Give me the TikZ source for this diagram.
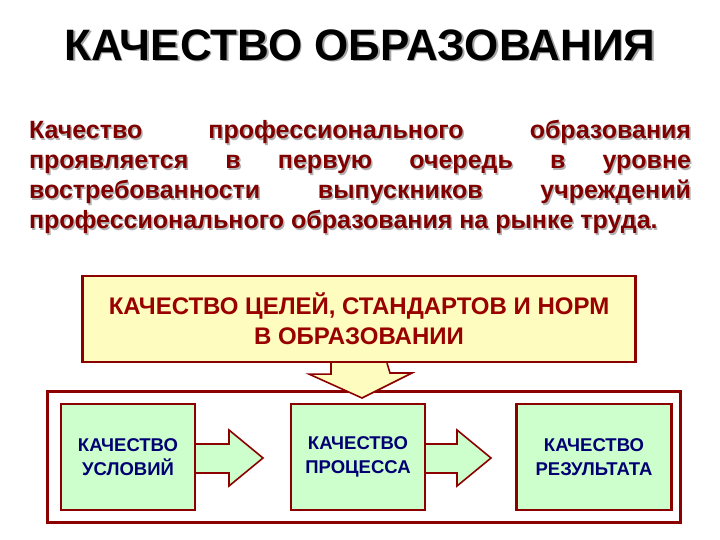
\documentclass[tikz,border=0pt]{standalone}
\usepackage{fontspec}
\setmainfont{Liberation Sans}
\begin{document}
\begin{tikzpicture}[x=1pt,y=-1pt,
  frame/.style={draw=red!55!black,line width=2.2pt},
  gbox/.style={frame,fill=green!20,minimum width=134pt,minimum height=106pt,text=blue!45!black,align=center,font=\fontsize{18.5}{24}\selectfont\bfseries},
  garrow/.style={frame,fill=green!20,line width=1.6pt}]
\useasboundingbox (0,0) rectangle (720,540);
\fill[white] (0,0) rectangle (720,540);
% title
\node (title) [font=\fontsize{44}{50}\selectfont\bfseries,text=black] at (360,46) {\rlap{\kern1.5pt\raisebox{-1.5pt}{\textcolor{black!35}{КАЧЕСТВО ОБРАЗОВАНИЯ}}}КАЧЕСТВО ОБРАЗОВАНИЯ};
% paragraph
\def\para{Качество профессионального образования проявляется в первую очередь в уровне востребованности выпускников учреждений профессионального образования на рынке труда.}
\node[text=black!30,text width=662pt,align=justify,font=\fontsize{25}{30}\selectfont\bfseries,inner sep=0pt,anchor=north] at (361.5,121.5) {\para};
\node (para) [text=red!50!black,text width=662pt,align=justify,font=\fontsize{25}{30}\selectfont\bfseries,inner sep=0pt,anchor=north] at (360,120) {\para};
% outer frame
\node (outer) [frame,minimum width=633pt,minimum height=131pt] at (364,457) {};
% top box
\node (top) [frame,fill=yellow!25,minimum width=553pt,minimum height=86pt,text=red!60!black,align=center,font=\fontsize{24}{30}\selectfont\bfseries] at (359,319) {КАЧЕСТВО ЦЕЛЕЙ, СТАНДАРТОВ И НОРМ\\В ОБРАЗОВАНИИ};
% green boxes
\node (b1) [gbox] at (128,457) {КАЧЕСТВО\\УСЛОВИЙ};
\node (b2) [gbox] at (358,457) {КАЧЕСТВО\\ПРОЦЕССА};
\node (b3) [gbox,minimum width=155pt] at (594,457) {КАЧЕСТВО\\РЕЗУЛЬТАТА};
% down arrow
\draw[frame,fill=yellow!25,line width=1.6pt] ([xshift=-28pt]top.south) -- ++(0,11) -- ++(-22,0) -- (362,398) -- (412,373) -- ++(-22,0) -- ([xshift=28pt]top.south);
% horizontal arrows
\draw[garrow] (b1.east |- 0,444) -- (229,444) -- (229,430) -- (263,458) -- (229,486) -- (229,473) -- (b1.east |- 0,473);
\draw[garrow] (b2.east |- 0,444) -- (457,444) -- (457,430) -- (491,458) -- (457,486) -- (457,473) -- (b2.east |- 0,473);
\end{tikzpicture}
\end{document}
